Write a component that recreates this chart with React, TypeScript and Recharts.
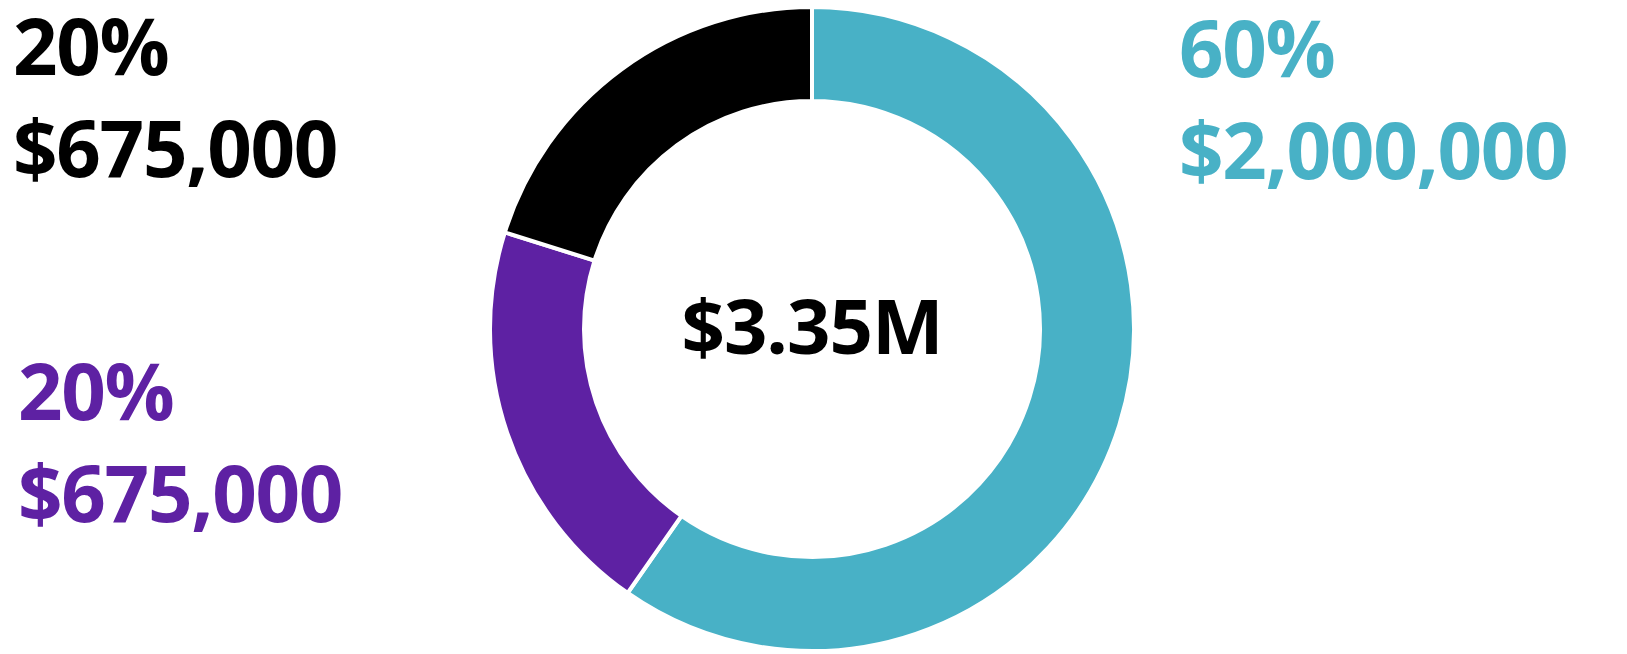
import { PieChart, Pie, Cell, Label } from "recharts";

const SEGMENTS = ["Teal", "Purple", "Black"];
const AMOUNTS = [2000000, 675000, 675000];
const COLORS = ["#48b1c6", "#5e21a3", "#000000"];
// where each callout sits (left x, first baseline)
const CALLOUTS = [
  { x: 1179, y: 77 },
  { x: 18, y: 420 },
  { x: 13, y: 75 },
];

const W = 1627;
const H = 654;
const FONT = "'Open Sans', 'Noto Sans', sans-serif";

const total = AMOUNTS.reduce((a, b) => a + b, 0);
const data = SEGMENTS.map((name, i) => ({ name, value: AMOUNTS[i] }));

function money(v: number) {
  return "$" + v.toLocaleString("en-US");
}

export default function App() {
  return (
    <div style={{ position: "relative", width: W, height: H, margin: "-8px 0 0 -8px", background: "#fff" }}>
      <PieChart width={W} height={H} margin={{ top: 0, right: 0, bottom: 0, left: 0 }}>
        <Pie
          data={data}
          dataKey="value"
          nameKey="name"
          cx={812}
          cy={329}
          innerRadius={228}
          outerRadius={322}
          startAngle={90}
          endAngle={-270}
          stroke="#fff"
          strokeWidth={4}
          isAnimationActive={false}
        >
          {data.map((d, i) => (
            <Cell key={d.name} fill={COLORS[i]} />
          ))}
          <Label
            position="center"
            content={() => (
              <text x={812} y={354} textAnchor="middle" fontFamily={FONT} fontWeight={700} fontSize={76} letterSpacing={-1} fill="#000">
                {"$" + (total / 1e6).toFixed(2) + "M"}
              </text>
            )}
          />
        </Pie>
      </PieChart>
      <svg width={W} height={H} style={{ position: "absolute", left: 0, top: 0, pointerEvents: "none" }}>
        {data.map((d, i) => (
          <g key={d.name} fontFamily={FONT} fontWeight={700} fontSize={78} letterSpacing={-1.3} fill={COLORS[i]}>
            <text x={CALLOUTS[i].x} y={CALLOUTS[i].y}>
              {Math.round((d.value / total) * 100) + "%"}
            </text>
            <text x={CALLOUTS[i].x} y={CALLOUTS[i].y + 102}>
              {money(d.value)}
            </text>
          </g>
        ))}
      </svg>
    </div>
  );
}
